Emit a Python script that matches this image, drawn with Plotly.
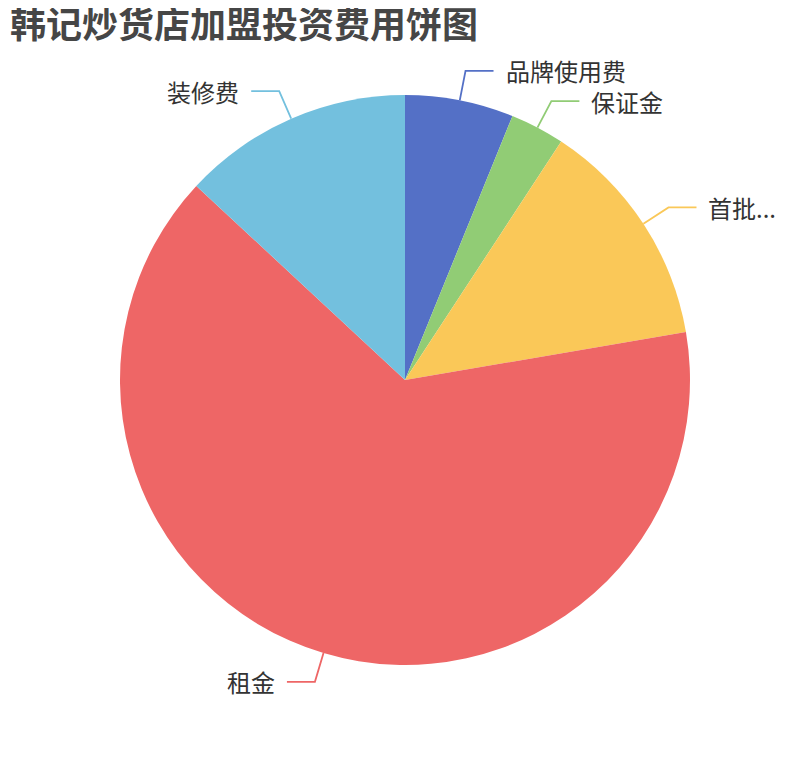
import math
import plotly.graph_objects as go

# Data
categories = ["品牌使用费", "保证金", "首批进货费", "租金", "装修费"]
display_labels = ["品牌使用费", "保证金", "首批...", "租金", "装修费"]
values = [2, 1, 4.25, 21, 4.25]
colors = ["#5470c6", "#91cc75", "#fac858", "#ee6666", "#73c0de"]

# figure size (page body adds an 8px margin)
W, H = 794, 744
OFF = 8
CX, CY, R = 405 - OFF, 380 - OFF, 285
LEN1, LEN2, GAP = 30, 28, 10
FONT = "Noto Sans CJK SC, Noto Sans, sans-serif"

fig = go.Figure()
fig.add_trace(go.Pie(
    labels=categories,
    values=values,
    marker=dict(colors=colors, line=dict(width=0)),
    sort=False,
    direction="clockwise",
    rotation=0,
    textinfo="none",
    hoverinfo="label+value+percent",
    showlegend=False,
    domain=dict(x=[(CX - R) / W, (CX + R) / W], y=[1 - (CY + R) / H, 1 - (CY - R) / H]),
))

def px2paper(x, y):
    return x / W, 1 - y / H

total = sum(values)
cum = 0.0
for lab, v, c in zip(display_labels, values, colors):
    mid = (cum + v / 2) / total * 2 * math.pi
    cum += v
    dx, dy = math.sin(mid), -math.cos(mid)
    p1 = (CX + R * dx, CY + R * dy)
    p2 = (CX + (R + LEN1) * dx, CY + (R + LEN1) * dy)
    side = 1 if dx >= 0 else -1
    p3 = (p2[0] + side * LEN2, p2[1])
    pts = [px2paper(*p) for p in (p1, p2, p3)]
    path = "M {} {} L {} {} L {} {}".format(*pts[0], *pts[1], *pts[2])
    fig.add_shape(type="path", path=path, xref="paper", yref="paper",
                  line=dict(color=c, width=1.8))
    tx, ty = px2paper(p3[0] + side * GAP, p3[1])
    fig.add_annotation(x=tx, y=ty, xref="paper", yref="paper", text=lab,
                       showarrow=False, xanchor="left" if side > 0 else "right",
                       yanchor="middle", font=dict(size=24, color="#333333", family=FONT))

fig.update_layout(
    width=W, height=H,
    margin=dict(l=0, r=0, t=0, b=0),
    paper_bgcolor="white", plot_bgcolor="white",
    title=dict(text="<b>韩记炒货店加盟投资费用饼图</b>", x=(10 - OFF) / W, xanchor="left",
               y=1 - (25 - OFF) / H, yanchor="middle",
               font=dict(size=36, color="#464646", family=FONT)),
)

fig.write_html("out.html")
